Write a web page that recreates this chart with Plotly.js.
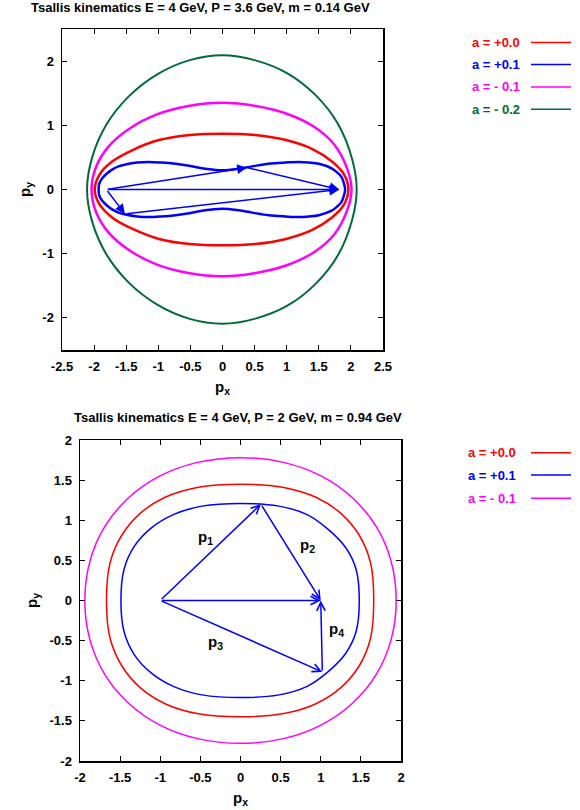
<!DOCTYPE html>
<html>
<head>
<meta charset="utf-8">
<script src="https://cdn.plot.ly/plotly-3.0.1.min.js"></script>
<style>html,body{margin:0;padding:0;background:#fff}</style>
</head>
<body>
<div id="viz" style="width:580px;height:810px"></div>
<script>
// upper halves of the curves (both plots are symmetric in py)
// top plot: E = 4 GeV, P = 3.6 GeV, m = 0.14 GeV
var topA00x = [-1.99, -1.92, -1.72, -1.40, -0.99, -0.51, 0, 0.51, 0.99, 1.40, 1.70, 1.89, 1.96];
var topA00y = [0, 0.225, 0.435, 0.615, 0.77, 0.85, 0.87, 0.85, 0.77, 0.63, 0.44, 0.24, 0];
var topA01x = [-1.93, -1.92, -1.87, -1.80, -1.72, -1.62, -1.51, -1.33, -1.15, -0.95, -0.73, -0.52, -0.32, -0.16, 0, 0.22, 0.46, 0.72, 0.98, 1.19, 1.35, 1.50, 1.70, 1.78, 1.85, 1.89, 1.91];
var topA01y = [0, 0.09, 0.18, 0.25, 0.31, 0.36, 0.39, 0.42, 0.43, 0.42, 0.40, 0.37, 0.33, 0.31, 0.30, 0.32, 0.36, 0.40, 0.42, 0.43, 0.42, 0.40, 0.33, 0.27, 0.20, 0.10, 0];
var topAm01x = [-2.04, -1.97, -1.77, -1.44, -1.02, -0.53, 0, 0.52, 1.00, 1.42, 1.74, 1.94, 2.01];
var topAm01y = [0, 0.35, 0.675, 0.955, 1.17, 1.30, 1.35, 1.30, 1.18, 0.98, 0.70, 0.33, 0];
var topAm02x = [-2.11, -2.03, -1.81, -1.46, -1.01, -0.51, 0, 0.50, 1.01, 1.45, 1.80, 2.02, 2.09];
var topAm02y = [0, 0.50, 1.007, 1.45, 1.797, 2.015, 2.09, 2.015, 1.81, 1.47, 1.02, 0.47, 0];

// bottom plot: E = 4 GeV, P = 2 GeV, m = 0.94 GeV
var botA00x = [-1.67, -1.625, -1.48, -1.25, -0.94, -0.54, 0, 0.54, 0.94, 1.25, 1.48, 1.62, 1.66];
var botA00y = [0, 0.471, 0.813, 1.086, 1.286, 1.409, 1.45, 1.409, 1.286, 1.086, 0.813, 0.471, 0];
var botA01x = [-1.49, -1.45, -1.32, -1.11, -0.83, -0.48, 0, 0.48, 0.83, 1.10, 1.31, 1.44, 1.48];
var botA01y = [0, 0.393, 0.68, 0.905, 1.073, 1.176, 1.21, 1.176, 1.07, 0.88, 0.66, 0.39, 0];
var botAm01x = [-1.94, -1.876, -1.692, -1.395, -1.003, -0.535, 0, 0.535, 1.003, 1.395, 1.692, 1.876, 1.94];
var botAm01y = [0, 0.491, 0.92, 1.28, 1.552, 1.721, 1.78, 1.721, 1.552, 1.28, 0.92, 0.491, 0];

// momentum vectors (tail -> head)
var topArrX0 = [-1.81, -1.81, 0.38, -1.81, -1.52];
var topArrY0 = [0, 0, 0.34, 0, -0.38];
var topArrX1 = [1.82, 0.38, 1.82, -1.52, 1.82];
var topArrY1 = [0, 0.34, 0, -0.38, 0];

var botArrX0 = [-1, -1, 0.254, -1, 1.02];
var botArrY0 = [0, 0, 1.20, 0, -0.89];
var botArrX1 = [1.0, 0.254, 1.0, 1.02, 1.0];
var botArrY1 = [0, 1.20, 0, -0.89, 0];

var vecLabels = ['p<sub>1</sub>', 'p<sub>2</sub>', 'p<sub>3</sub>', 'p<sub>4</sub>'];
var vecLabelX = [-0.43, 0.84, -0.31, 1.19];
var vecLabelY = [0.78, 0.68, -0.52, -0.36];

var topTicksX = [-2.5, -2, -1.5, -1, -0.5, 0, 0.5, 1, 1.5, 2, 2.5];
var topTicksXText = ['-2.5', '-2', '-1.5', '-1', '-0.5', '0', '0.5', '1', '1.5', '2', '2.5'];
var topTicksY = [-2, -1, 0, 1, 2];
var topTicksYText = ['-2', '-1', '0', '1', '2'];
var botTicks = [-2, -1.5, -1, -0.5, 0, 0.5, 1, 1.5, 2];
var botTicksText = ['-2', '-1.5', '-1', '-0.5', '0', '0.5', '1', '1.5', '2'];

var topNames = ['a = +0.0', 'a = +0.1', 'a = - 0.1', 'a = - 0.2'];
var botNames = ['a = +0.0', 'a = +0.1', 'a = - 0.1'];

var RED = '#ff0000', BLUE = '#0000ff', MAG = '#ff00ff', GREEN = '#006a3a';
var FONT = 'Liberation Sans, Arial, sans-serif';

// close a curve by mirroring its upper half below the px axis,
// starting and ending at the top so the side tips stay smooth
function closed(xs, ys) {
  var fx = xs.slice(), fy = ys.slice();
  for (var i = xs.length - 2; i >= 0; i--) { fx.push(xs[i]); fy.push(-ys[i]); }
  var m = 0;
  for (var j = 0; j < xs.length; j++) if (ys[j] > ys[m]) m = j;
  return {x: fx.slice(m).concat(fx.slice(1, m + 1)),
          y: fy.slice(m).concat(fy.slice(1, m + 1))};
}

function curve(xs, ys, color, w, ax) {
  var c = closed(xs, ys);
  return {x: c.x, y: c.y, mode: 'lines', type: 'scatter',
          xaxis: ax[0], yaxis: ax[1], showlegend: false, hoverinfo: 'skip',
          line: {color: color, width: w, shape: 'spline', smoothing: 1}};
}

var data = [
  curve(topAm02x, topAm02y, GREEN, 2, ['x', 'y']),
  curve(topAm01x, topAm01y, MAG, 2.5, ['x', 'y']),
  curve(topA00x, topA00y, RED, 2.5, ['x', 'y']),
  curve(topA01x, topA01y, BLUE, 2.5, ['x', 'y']),
  curve(botAm01x, botAm01y, MAG, 1.5, ['x2', 'y2']),
  curve(botA00x, botA00y, RED, 1.5, ['x2', 'y2']),
  curve(botA01x, botA01y, BLUE, 1.5, ['x2', 'y2'])
];

var annotations = [];
var shapes = [];

function arrows(x0, y0, x1, y1, xr, yr, head, size) {
  for (var i = 0; i < x0.length; i++) {
    annotations.push({x: x1[i], y: y1[i], ax: x0[i], ay: y0[i],
      xref: xr, yref: yr, axref: xr, ayref: yr, text: '', showarrow: true,
      arrowhead: head, arrowsize: size, arrowwidth: 1.5, arrowcolor: BLUE, standoff: 0});
  }
}
arrows(topArrX0, topArrY0, topArrX1, topArrY1, 'x', 'y', 2, 1.3);
arrows(botArrX0, botArrY0, botArrX1, botArrY1, 'x2', 'y2', 5, 1.1);

for (var i = 0; i < vecLabels.length; i++) {
  annotations.push({x: vecLabelX[i], y: vecLabelY[i], xref: 'x2', yref: 'y2',
    text: vecLabels[i], showarrow: false, font: {family: FONT, size: 15, color: '#000', weight: 'bold'}});
}

function legend(names, colors, rowsPx, textRight) {
  for (var i = 0; i < names.length; i++) {
    var yp = 1 - rowsPx[i] / 810;
    annotations.push({x: textRight / 580, y: yp, xref: 'paper', yref: 'paper',
      xanchor: 'right', yanchor: 'middle', text: names[i], showarrow: false,
      font: {family: FONT, size: 13, color: colors[i], weight: 'bold'}});
    shapes.push({type: 'line', xref: 'paper', yref: 'paper',
      x0: 531 / 580, x1: 571 / 580, y0: yp, y1: yp, line: {color: colors[i], width: 1.5}});
  }
}
legend(topNames, [RED, BLUE, MAG, GREEN], [42.5, 64.5, 87, 109.3], 522);
legend(botNames, [RED, BLUE, MAG], [452.7, 475, 498.3], 518);

annotations.push({x: 200 / 580, y: 1 - 8 / 810, xref: 'paper', yref: 'paper', showarrow: false,
  yanchor: 'middle', text: 'Tsallis kinematics E = 4 GeV, P = 3.6 GeV, m = 0.14 GeV',
  font: {family: FONT, size: 13, color: '#000', weight: 'bold'}});
annotations.push({x: 238 / 580, y: 1 - 417 / 810, xref: 'paper', yref: 'paper', showarrow: false,
  yanchor: 'middle', text: 'Tsallis kinematics E = 4 GeV, P = 2 GeV, m = 0.94 GeV',
  font: {family: FONT, size: 13, color: '#000', weight: 'bold'}});

function axis(dom, range, vals, text, title, standoff) {
  return {domain: dom, range: range, tickmode: 'array', tickvals: vals, ticktext: text,
    showline: true, linecolor: '#000', linewidth: 1.5, mirror: 'ticks',
    ticks: 'inside', ticklen: 5, tickwidth: 1, tickcolor: '#000',
    showgrid: false, zeroline: false, ticklabelstandoff: 4,
    tickfont: {family: FONT, size: 13, color: '#000', weight: 'bold'},
    title: {text: title, standoff: standoff, font: {family: FONT, size: 15, color: '#000', weight: 'bold'}}};
}

var layout = {
  width: 580, height: 810,
  margin: {l: 0, r: 0, t: 0, b: 0},
  paper_bgcolor: '#fff', plot_bgcolor: '#fff',
  showlegend: false,
  xaxis: axis([62 / 580, 383 / 580], [-2.5, 2.5], topTicksX, topTicksXText, 'p<sub>x</sub>', 8),
  yaxis: axis([1 - 350 / 810, 1 - 29 / 810], [-2.5, 2.5], topTicksY, topTicksYText, 'p<sub>y</sub>', 8),
  xaxis2: axis([80 / 580, 401 / 580], [-2, 2], botTicks, botTicksText, 'p<sub>x</sub>', 8),
  yaxis2: axis([1 - 761 / 810, 1 - 440 / 810], [-2, 2], botTicks, botTicksText, 'p<sub>y</sub>', 8),
  annotations: annotations,
  shapes: shapes
};
layout.xaxis.anchor = 'y';
layout.yaxis.anchor = 'x';
layout.xaxis2.anchor = 'y2';
layout.yaxis2.anchor = 'x2';

Plotly.newPlot('viz', data, layout, {staticPlot: true});
</script>
</body>
</html>
